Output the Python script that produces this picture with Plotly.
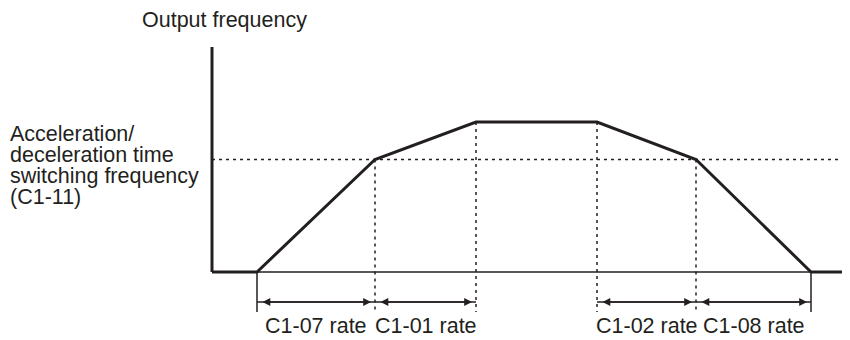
import plotly.graph_objects as go

# corners of the output frequency profile (time in arbitrary units, frequency in % of max)
t_points = [0, 4.5, 16.3, 26.4, 38.5, 48.4, 59.9, 63.8]
f_points = [0, 0, 75, 100, 100, 75, 0, 0]

f_switch = 75
f_axis_top = 150
t_end = 63.8

# rate dimension arrows below the time axis
rate_starts = [4.5, 16.3, 38.5, 48.4]
rate_ends = [16.3, 26.4, 48.4, 59.9]
rate_labels = ["C1-07 rate", "C1-01 rate", "C1-02 rate", "C1-08 rate"]

# guide lines dropped from the profile corners
dotted_t = [16.3, 26.4, 38.5, 48.4]
dotted_f = [75, 100, 100, 75]
solid_t = [4.5, 59.9]

left_label_lines = ["Acceleration/", "deceleration time", "switching frequency", "(C1-11)"]
y_title = "Output frequency"

INK = "#231f20"
FONT = dict(family="Liberation Sans, Arial, sans-serif", size=21.5, color=INK)
DIM_Y = -20
EXT_Y = -26.7
# the page body has an 8px margin, so the figure is a bit smaller than the window
PAGE_OFF = 8
W, H = 850 - PAGE_OFF, 340 - PAGE_OFF


def px(x):
    return (x - PAGE_OFF) / W


def py(y):
    return 1 - (y - PAGE_OFF) / H


def join(segments):
    xs, ys = [], []
    for (x0, y0), (x1, y1) in segments:
        xs += [x0, x1, None]
        ys += [y0, y1, None]
    return xs, ys


fig = go.Figure()

# thin baseline
fig.add_trace(go.Scatter(x=[0, t_end], y=[0, 0], mode="lines",
                         line=dict(color=INK, width=1.5)))

# switching frequency level
fig.add_trace(go.Scatter(x=[0, t_end], y=[f_switch, f_switch], mode="lines",
                         line=dict(color=INK, width=1.5, dash="3px,4px")))

# dotted verticals
xs, ys = join([((t, f), (t, EXT_Y)) for t, f in zip(dotted_t, dotted_f)])
fig.add_trace(go.Scatter(x=xs, y=ys, mode="lines",
                         line=dict(color=INK, width=1.5, dash="3px,4px")))

# solid extension lines
xs, ys = join([((t, 0), (t, EXT_Y)) for t in solid_t])
fig.add_trace(go.Scatter(x=xs, y=ys, mode="lines", line=dict(color=INK, width=1.5)))

# dimension lines
xs, ys = join([((s, DIM_Y), (e, DIM_Y)) for s, e in zip(rate_starts, rate_ends)])
fig.add_trace(go.Scatter(x=xs, y=ys, mode="lines", line=dict(color=INK, width=1.3)))

# vertical axis
fig.add_trace(go.Scatter(x=[0, 0], y=[0, f_axis_top], mode="lines",
                         line=dict(color=INK, width=3)))

# profile
fig.add_trace(go.Scatter(x=t_points, y=f_points, mode="lines",
                         line=dict(color=INK, width=3)))

annotations = []
for s, e, lab in zip(rate_starts, rate_ends, rate_labels):
    annotations.append(dict(x=e, y=DIM_Y, ax=s, ay=DIM_Y, xref="x", yref="y",
                            axref="x", ayref="y", text="", showarrow=True,
                            arrowside="end+start", arrowhead=2, arrowsize=1.2,
                            arrowwidth=1.3, arrowcolor=INK, standoff=4, startstandoff=4))
    annotations.append(dict(x=(s + e) / 2, y=py(326), xref="x", yref="paper",
                            text=lab, showarrow=False, font=FONT,
                            xanchor="center", yanchor="middle"))

for i, line in enumerate(left_label_lines):
    annotations.append(dict(x=px(8), y=py(133.7 + 21.1 * i), xref="paper", yref="paper",
                            text=line, showarrow=False, font=FONT,
                            xanchor="left", yanchor="middle"))

annotations.append(dict(x=px(140), y=py(20.3), xref="paper", yref="paper",
                        text=y_title, showarrow=False, font=FONT,
                        xanchor="left", yanchor="middle"))

fig.update_layout(
    width=W,
    height=H,
    margin=dict(l=0, r=0, t=0, b=0),
    paper_bgcolor="white",
    plot_bgcolor="white",
    showlegend=False,
    annotations=annotations,
)
# 10 px per time unit, 1.5 px per frequency unit; t=0 / f=0 meet at page pixel (212, 272)
fig.update_xaxes(visible=False, range=[(PAGE_OFF - 212) / 10, (850 - 212) / 10])
fig.update_yaxes(visible=False, range=[(272 - 340) / 1.5, (272 - PAGE_OFF) / 1.5])

fig.write_html("out.html")
